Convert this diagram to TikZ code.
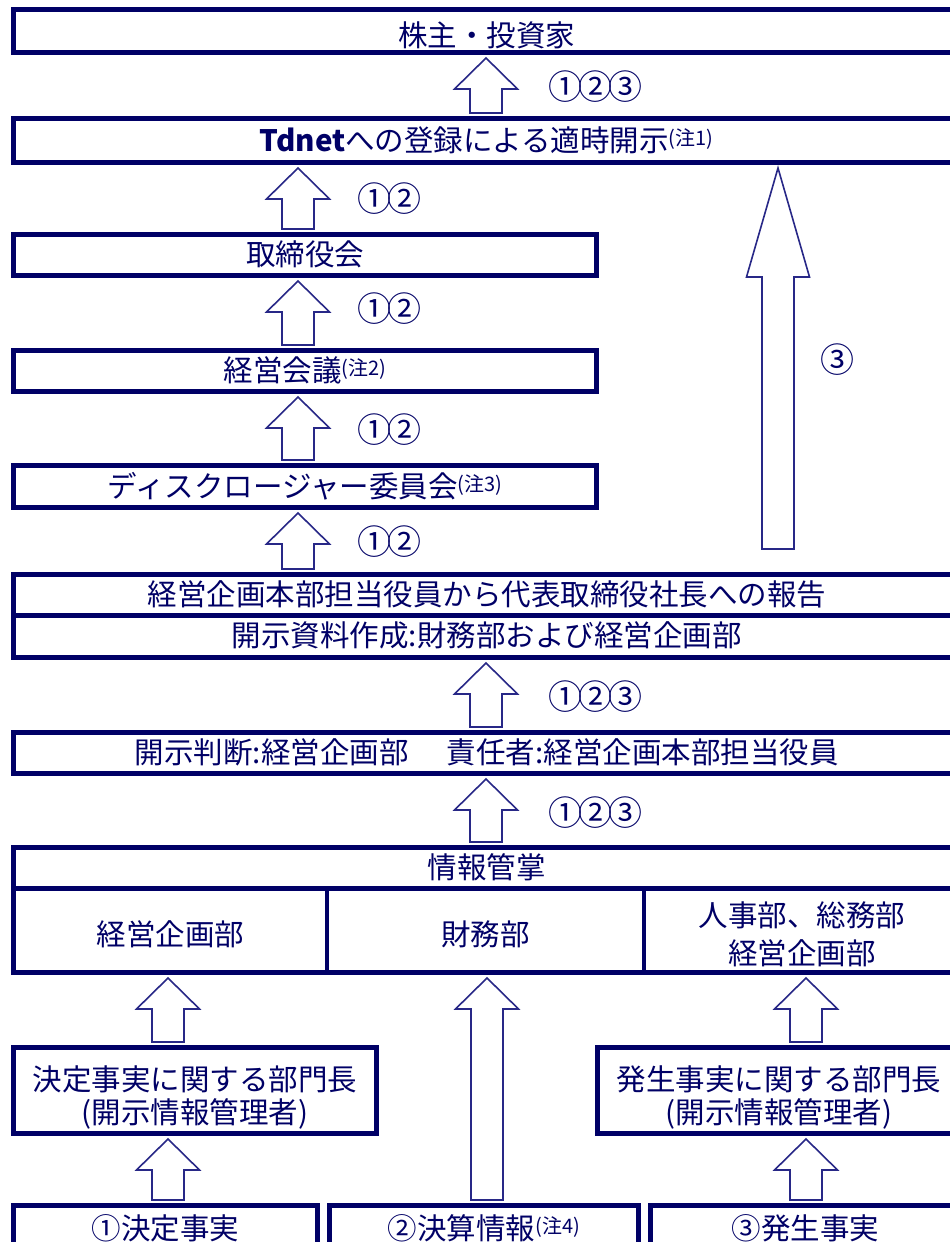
\documentclass[tikz,border=0pt]{standalone}
\usepackage{fontspec}
\setmainfont{Noto Sans CJK JP}
\usetikzlibrary{calc}
\definecolor{navy}{RGB}{0,0,102}
\definecolor{arrc}{RGB}{40,40,135}
\newcommand\chu[1]{{\fontsize{20}{20}\selectfont\raisebox{6pt}{(注#1)}}}
\newcommand\blockup[4][31]{%
  \draw[barrow] let \p1=(#2,0 |- #3), \p2=(#2,0 |- #4) in
   (\x1,\y1-3pt) -- (\x1+31.5pt,\y1-3pt-#1pt) -- (\x1+16pt,\y1-3pt-#1pt)
   -- (\x1+16pt,\y2+3pt) -- (\x1-16pt,\y2+3pt) -- (\x1-16pt,\y1-3pt-#1pt)
   -- (\x1-31.5pt,\y1-3pt-#1pt) -- cycle;}
\tikzset{
  box/.style={draw=navy, line width=5pt, inner sep=0pt, text=navy,
    font=\fontsize{29.5}{34}\selectfont, text height=24pt, text depth=3pt},
  mbox/.style={draw=navy, line width=5pt, inner sep=0pt, text=navy,
    font=\fontsize{29.5}{33}\selectfont, align=center},
  col/.style={draw=navy, line width=4pt, inner sep=0pt, text=navy,
    font=\fontsize{29.5}{38}\selectfont, align=center},
  frame/.style={draw=navy, line width=5pt, inner sep=0pt},
  num/.style={text=navy, inner sep=0pt, font=\fontsize{34}{38}\selectfont,
    text height=27pt, text depth=3pt},
  barrow/.style={draw=arrc, fill=white, line width=1.6pt, line join=miter}
}
\newcommand\cn[1]{#1}
\begin{document}
\begin{tikzpicture}[x=1pt,y=-1pt]
\useasboundingbox (0,0) rectangle (950,1242);
\clip (0,0) rectangle (950,1242);
\fill[white] (0,0) rectangle (950,1242);
% boxes
\node[box, text height=30pt, text depth=0pt, minimum width=946.5, minimum height=43] (b1) at (486.75,31) {株主・投資家};
\node[box, minimum width=946.5, minimum height=44] (b2) at (486.75,140.5) {\textbf{Tdnet}への登録による適時開示\chu{1}};
\node[box, minimum width=583, minimum height=41] (b3) at (305,255) {取締役会};
\node[box, minimum width=583, minimum height=41] (b4) at (305,371) {経営会議\chu{2}};
\node[box, minimum width=583, minimum height=42] (b5) at (305,486.5) {ディスクロージャー委員会\chu{3}};
\node[box, minimum width=946.5, minimum height=40.5] (b6a) at (486.75,594.75) {経営企画本部担当役員から代表取締役社長への報告};
\node[box, minimum width=946.5, minimum height=42.5] (b6b) at (486.75,636.25) {開示資料作成:財務部および経営企画部};
\node[box, minimum width=946.5, minimum height=41] (b7) at (486.75,753) {開示判断:経営企画部\hspace{1.3em}責任者:経営企画本部担当役員};
\node[col, text height=31pt, text depth=0pt, minimum width=313.5, minimum height=84.5] (c1) at (170.25,930.25) {経営企画部};
\node[col, text height=31pt, text depth=0pt, minimum width=317, minimum height=84.5] (c2) at (485.5,930.25) {財務部};
\node[col, minimum width=316, minimum height=84.5] (c3) at (802,930.25) {\rule{0pt}{32pt}人事部、総務部\\経営企画部};
\node[box, minimum width=946.5, minimum height=40.5] (b8h) at (486.75,867.75) {情報管掌};
\node[frame, minimum width=946.5, minimum height=125] (f8) at (486.75,910) {};
\node[mbox, minimum width=363, minimum height=86] (b9) at (195,1090.5) {\rule{0pt}{38pt}決定事実に関する部門長\\(開示情報管理者)};
\node[mbox, minimum width=362.5, minimum height=86] (b10) at (778.75,1090.5) {\rule{0pt}{38pt}発生事実に関する部門長\\(開示情報管理者)};
\node[box, minimum width=304, minimum height=47] (r1) at (165.5,1229) {①決定事実};
\node[box, minimum width=309, minimum height=47] (r2) at (484,1229) {②決算情報\chu{4}};
\node[box, minimum width=309.5, minimum height=47] (r3) at (805.25,1229) {③発生事実};
\coordinate (bigbot) at (778,552);
% arrows
\blockup{486}{b1.south}{b2.north}
\blockup{298}{b2.south}{b3.north}
\blockup{298}{b3.south}{b4.north}
\blockup{298}{b4.south}{b5.north}
\blockup{298}{b5.south}{b6a.north}
\blockup[109]{778}{b2.south}{bigbot}
\blockup{486}{b6b.south}{b7.north}
\blockup{486}{b7.south}{b8h.north}
\blockup{168}{f8.south}{b9.north}
\blockup{487}{f8.south}{r2.north}
\blockup{806}{f8.south}{b10.north}
\blockup{168}{b9.south}{r1.north}
\blockup{806}{b10.south}{r3.north}
% labels
\node[num] (n1) at (595,87) {①\kern-4pt②\kern-4pt③};
\node[num] (n2) at (389,199) {①\kern-4pt②};
\node[num] (n3) at (389,309) {①\kern-4pt②};
\node[num] (n4) at (389,430) {①\kern-4pt②};
\node[num] (n5) at (389,542) {①\kern-4pt②};
\node[num] (n6) at (595,697) {①\kern-4pt②\kern-4pt③};
\node[num] (n7) at (595,813) {①\kern-4pt②\kern-4pt③};
\node[num] (n8) at (837,360) {③};
\end{tikzpicture}
\end{document}
